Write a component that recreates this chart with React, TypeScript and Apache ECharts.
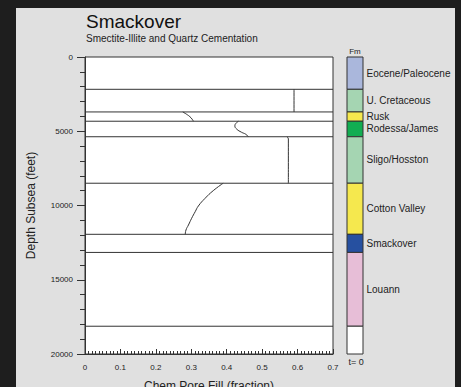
import React, { useEffect, useRef } from "react";
import * as echarts from "echarts";

// Formation tops (feet, depth subsea) and bottom of section
const depthTops = [0, 2175, 3700, 4325, 5370, 8500, 11940, 13160, 18130, 20000];
const formationNames = [
  "Eocene/Paleocene",
  "U. Cretaceous",
  "Rusk",
  "Rodessa/James",
  "Sligo/Hosston",
  "Cotton Valley",
  "Smackover",
  "Louann",
  "",
];
const formationColors = [
  "#aab7dc",
  "#a5d5b2",
  "#f5e84e",
  "#12ad52",
  "#a5d5b2",
  "#f5e84e",
  "#2650a0",
  "#e7bed7",
  "#ffffff",
];

// Chem pore fill (fraction) vs depth, per formation
const uCretaceousFill = [[0.59, 2175], [0.59, 3700]];
const ruskFill = [[0.276, 3700], [0.287, 3860], [0.296, 4020], [0.302, 4175], [0.306, 4325]];
const rodessaFill = [[0.433, 4325], [0.426, 4470], [0.423, 4630], [0.428, 4850], [0.442, 5070], [0.454, 5205], [0.461, 5370]];
const sligoFill = [[0.570, 5370], [0.574, 5520], [0.574, 8500]];
const cottonValleyFill = [[0.390, 8500], [0.362, 9000], [0.339, 9515], [0.320, 10034], [0.311, 10418], [0.301, 10862], [0.292, 11313], [0.285, 11650], [0.283, 11940]];

const xMin = 0;
const xMax = 0.7;
const yMin = 0;
const yMax = 20000;

const FONT = "'Liberation Sans', Arial, sans-serif";

export default function App() {
  const ref = useRef<HTMLDivElement>(null);
  useEffect(() => {
    if (!ref.current) return;
    const chart = echarts.init(ref.current, null, { renderer: "svg" });

    const boundaries = depthTops.slice(1, -1);
    const boundarySeries = boundaries.map((d) => ({
      type: "line",
      xAxisIndex: 0,
      yAxisIndex: 0,
      data: [[xMin, d], [xMax, d]],
      symbol: "none",
      lineStyle: { color: "#333", width: 1 },
      silent: true,
    }));

    const curves = [uCretaceousFill, ruskFill, rodessaFill, sligoFill, cottonValleyFill];
    const curveSeries = curves.map((c) => ({
      type: "line",
      xAxisIndex: 0,
      yAxisIndex: 0,
      data: c,
      symbol: "none",
      smooth: 0.5,
      lineStyle: { color: "#333", width: 1 },
      silent: true,
    }));

    const areas = formationNames.map((name, i) => [
      {
        yAxis: depthTops[i],
        name,
        itemStyle: { color: formationColors[i], borderColor: "#333", borderWidth: 1, opacity: 1 },
      },
      { yAxis: depthTops[i + 1] },
    ]);

    chart.setOption({
      animation: false,
      backgroundColor: "#1e1e1e",
      textStyle: { fontFamily: FONT },
      graphic: [
        {
          type: "rect",
          shape: { x: 16, y: 8, width: 439, height: 379 },
          style: { fill: "#e0e0e0" },
          z: -10,
          silent: true,
        },
        {
          type: "text",
          x: 355,
          y: 51,
          style: { text: "Fm", fontSize: 8, fill: "#222", align: "center", verticalAlign: "middle", fontFamily: FONT },
        },
        {
          type: "text",
          x: 356,
          y: 362,
          style: { text: "t= 0", fontSize: 9, fill: "#222", align: "center", verticalAlign: "middle", fontFamily: FONT },
        },
      ],
      title: {
        text: "Smackover",
        subtext: "Smectite-Illite and Quartz Cementation",
        left: 86,
        top: 12,
        padding: 0,
        itemGap: 2,
        textStyle: { fontSize: 19, fontWeight: "normal", color: "#111", fontFamily: FONT },
        subtextStyle: { fontSize: 10, color: "#222", fontFamily: FONT },
      },
      grid: [
        {
          left: 85,
          top: 57,
          width: 248,
          height: 297,
          show: true,
          backgroundColor: "#ffffff",
          borderColor: "#333",
          borderWidth: 1,
          containLabel: false,
          outerBoundsMode: "none",
        },
        {
          left: 347,
          top: 57,
          width: 16,
          height: 297,
          show: false,
          containLabel: false,
          outerBoundsMode: "none",
        },
      ],
      xAxis: [
        {
          type: "value",
          gridIndex: 0,
          min: xMin,
          max: xMax,
          interval: 0.1,
          position: "bottom",
          name: "Chem Pore Fill (fraction)",
          nameLocation: "middle",
          nameGap: 26,
          nameTextStyle: { fontSize: 12, color: "#222", fontFamily: FONT },
          axisLine: { show: true, onZero: false, lineStyle: { color: "#333" } },
          axisTick: { show: true, inside: true, length: 5, lineStyle: { color: "#333" } },
          minorTick: { show: true, splitNumber: 10, length: 3, lineStyle: { color: "#333" } },
          splitLine: { show: false },
          axisLabel: {
            fontSize: 8,
            color: "#222",
            margin: 9,
            fontFamily: FONT,
            formatter: (v: number) => (v === 0 ? "0" : String(Math.round(v * 10) / 10)),
          },
        },
        {
          type: "value",
          gridIndex: 1,
          min: 0,
          max: 1,
          show: false,
        },
      ],
      yAxis: [
        {
          type: "value",
          gridIndex: 0,
          min: yMin,
          max: yMax,
          interval: 5000,
          inverse: true,
          name: "Depth Subsea (feet)",
          nameLocation: "middle",
          nameGap: 48,
          nameTextStyle: { fontSize: 12, color: "#222", fontFamily: FONT },
          axisLine: { show: true, onZero: false, lineStyle: { color: "#333" } },
          axisTick: { show: true, inside: false, length: 8, lineStyle: { color: "#333" } },
          minorTick: { show: true, splitNumber: 5, length: 5, lineStyle: { color: "#333" } },
          splitLine: { show: false },
          axisLabel: {
            fontSize: 8,
            color: "#222",
            margin: 12,
            fontFamily: FONT,
            formatter: (v: number) => String(v),
          },
        },
        {
          type: "value",
          gridIndex: 1,
          min: yMin,
          max: yMax,
          inverse: true,
          show: false,
        },
      ],
      series: [
        ...boundarySeries,
        ...curveSeries,
        {
          type: "line",
          xAxisIndex: 1,
          yAxisIndex: 1,
          data: [[0, 0]],
          symbol: "none",
          lineStyle: { opacity: 0 },
          silent: true,
          markArea: {
            silent: true,
            label: {
              show: true,
              position: "right",
              distance: 3,
              fontSize: 10,
              color: "#222",
              fontFamily: FONT,
            },
            data: areas,
          },
        },
      ],
    });
    return () => chart.dispose();
  }, []);

  return (
    <div style={{ position: "fixed", left: 0, top: 0, width: 461, height: 387 }}>
      <div ref={ref} style={{ width: 461, height: 387 }} />
    </div>
  );
}
